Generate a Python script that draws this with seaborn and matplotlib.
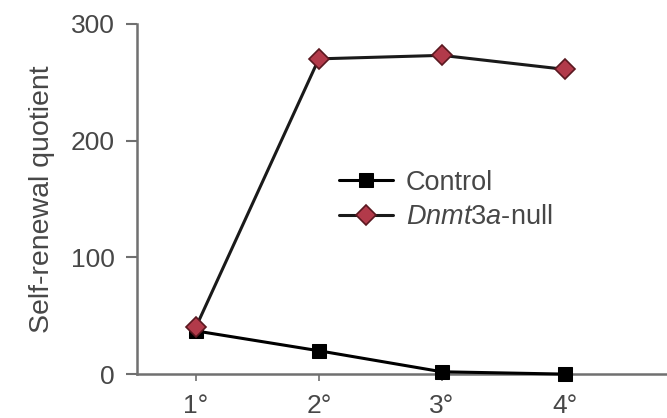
import matplotlib
matplotlib.use("Agg")
import matplotlib.pyplot as plt
import seaborn as sns
import pandas as pd

# Serial transplant rounds and self-renewal quotient per genotype
passages = ["1°", "2°", "3°", "4°"]
control = [37, 20, 2, 0]
dnmt3a_null = [40, 270, 273, 261]
y_ticks = [0, 100, 200, 300]

sns.set_theme(style="white")
plt.rcParams["font.family"] = ["Liberation Sans", "DejaVu Sans"]
plt.rcParams["mathtext.fontset"] = "custom"
plt.rcParams["mathtext.it"] = "Liberation Sans:italic"
plt.rcParams["mathtext.rm"] = "Liberation Sans"

df = pd.DataFrame({
    "passage": list(range(1, len(passages) + 1)) * 2,
    "value": control + dnmt3a_null,
    "group": ["Control"] * len(control) + ["Dnmt3a-null"] * len(dnmt3a_null),
})

fig = plt.figure(figsize=(6.67, 4.18), dpi=100)
ax = fig.add_axes([0.205, 0.105, 0.795, 0.838])

grey = "#707070"
text_grey = "#474747"

sns.lineplot(data=df[df.group == "Control"], x="passage", y="value", ax=ax,
             color="black", lw=2.2, marker="s", markersize=10.5,
             markerfacecolor="black", markeredgecolor="black",
             label="Control", zorder=4, clip_on=False)
sns.lineplot(data=df[df.group == "Dnmt3a-null"], x="passage", y="value", ax=ax,
             color="#1a1a1a", lw=2.2, marker="D", markersize=10.5,
             markerfacecolor="#b23a4a", markeredgecolor="#5a1820",
             markeredgewidth=1.2, label="$\\it{Dnmt3a}$-null", zorder=5,
             clip_on=False)

ax.set_xlim(0.52, 4.83)
ax.set_ylim(0, 300)
ax.set_xticks(range(1, len(passages) + 1))
ax.set_xticklabels(passages)
ax.set_yticks(y_ticks)
ax.set_xlabel("")
ax.set_ylabel("Self-renewal quotient", fontsize=20.5, color=text_grey, labelpad=11)

for side in ["top", "right"]:
    ax.spines[side].set_visible(False)
for side in ["left", "bottom"]:
    ax.spines[side].set_color(grey)
    ax.spines[side].set_linewidth(1.8)

ax.tick_params(axis="y", which="major", direction="out", length=8,
               width=1.5, color=grey, labelsize=19, labelcolor=text_grey,
               left=True, pad=8)
ax.tick_params(axis="x", which="major", direction="out", length=5,
               width=1.2, color=grey, labelsize=19, labelcolor=text_grey,
               bottom=True, pad=9)

leg = ax.legend(loc="center left", bbox_to_anchor=(0.335, 0.497), frameon=False,
                fontsize=19.5, handlelength=2.0, handletextpad=0.48,
                labelspacing=0.3, labelcolor=text_grey)

fig.savefig("out.png", dpi=100)
